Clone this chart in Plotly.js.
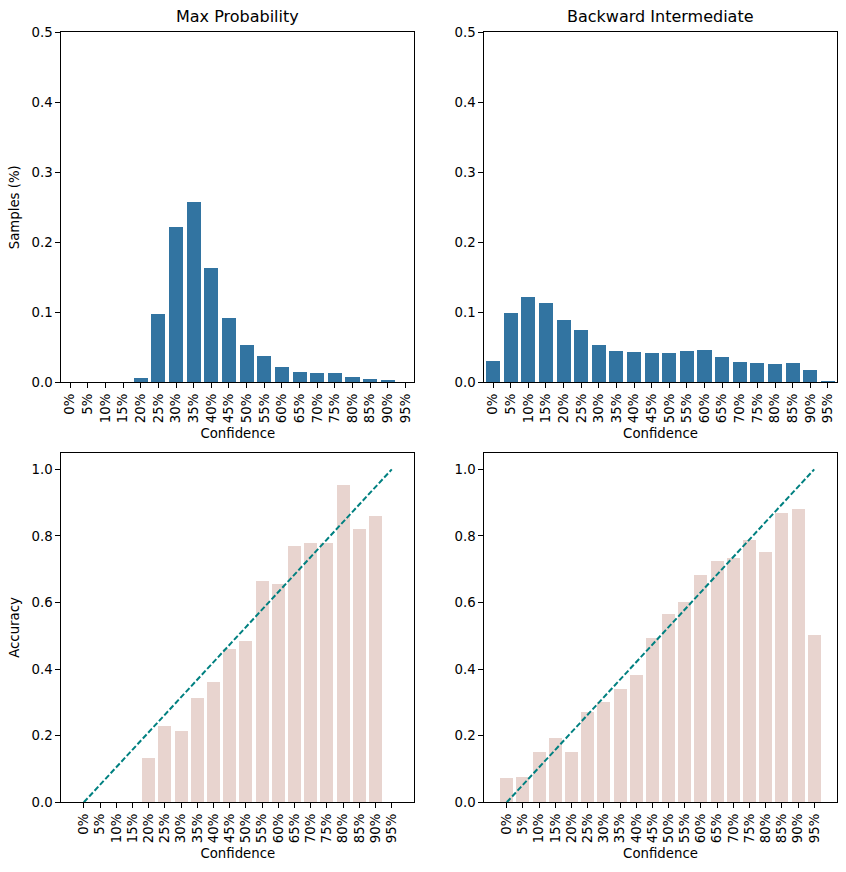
<!DOCTYPE html>
<html>
<head>
<meta charset="utf-8">
<script src="https://cdn.plot.ly/plotly-3.0.1.min.js"></script>
<style>html,body{margin:0;padding:0;background:#fff;}#chart{width:846px;height:872px;}</style>
</head>
<body>
<div id="chart"></div>
<script>
const labels = ["0%","5%","10%","15%","20%","25%","30%","35%","40%","45%","50%","55%","60%","65%","70%","75%","80%","85%","90%","95%"];
const maxProbSamples = [0,0,0,0,0.0062,0.0976,0.222,0.2576,0.1633,0.0919,0.0533,0.0376,0.0219,0.0148,0.0133,0.0133,0.0076,0.0048,0.0033,0];
const backIntSamples = [0.0305,0.099,0.1219,0.1133,0.089,0.0748,0.0533,0.0448,0.0433,0.0419,0.0419,0.0448,0.0462,0.0362,0.029,0.0276,0.0262,0.0276,0.0176,0.0019];
const maxProbAccuracy = [0,0,0,0,0.133,0.229,0.214,0.313,0.361,0.46,0.484,0.665,0.656,0.77,0.779,0.779,0.953,0.821,0.86,0];
const backIntAccuracy = [0.073,0.076,0.151,0.193,0.151,0.271,0.301,0.34,0.382,0.493,0.566,0.602,0.683,0.725,0.734,0.788,0.752,0.869,0.881,0.5025];
const diagY = [0, 1];

const idx = labels.map((_, i) => i);
const diagX = [0, labels.length - 1];

const blue = "#3274a1";
const pink = "#e8d4cf";
const teal = "#008080";
const font = {family: "DejaVu Sans", size: 13.3, color: "#000"};

function barTrace(vals, color, xa, ya) {
  return {type: "bar", x: idx, y: vals, width: 0.8, marker: {color: color, line: {width: 0}},
          xaxis: xa, yaxis: ya, showlegend: false, hoverinfo: "skip"};
}
function lineTrace(xa, ya) {
  return {type: "scatter", mode: "lines", x: diagX, y: diagY,
          line: {color: teal, width: 2, dash: "5.5px,2.4px"}, xaxis: xa, yaxis: ya, showlegend: false, hoverinfo: "skip"};
}

const data = [
  barTrace(maxProbSamples, blue, "x", "y"),
  barTrace(backIntSamples, blue, "x2", "y2"),
  barTrace(maxProbAccuracy, pink, "x3", "y3"),
  lineTrace("x3", "y3"),
  barTrace(backIntAccuracy, pink, "x4", "y4"),
  lineTrace("x4", "y4")
];

function xAxis(domain, range, anchor) {
  return {domain: domain, range: range, anchor: anchor, tickmode: "array", tickvals: idx, ticktext: labels,
          tickangle: -90, ticks: "outside", ticklen: 5, tickwidth: 1, tickcolor: "#000",
          showline: true, linecolor: "#000", linewidth: 1, mirror: true, showgrid: false, zeroline: false,
          tickfont: font, title: {text: "Confidence", font: font, standoff: 6}, fixedrange: true};
}
function yAxis(domain, range, dtick, anchor, title) {
  return {domain: domain, range: range, anchor: anchor, dtick: dtick, tick0: 0, tickformat: ".1f",
          ticks: "outside", ticklen: 5, tickwidth: 1, tickcolor: "#000",
          showline: true, linecolor: "#000", linewidth: 1, mirror: true, showgrid: false, zeroline: false,
          tickfont: font, title: {text: title, font: font, standoff: 8}, fixedrange: true};
}

const W = 846, H = 872;
const xL = [61.3 / W, 414.3 / W];
const xR = [484.3 / W, 836.7 / W];
const yT = [1 - 382.3 / H, 1 - 32.3 / H];
const yB = [1 - 802.3 / H, 1 - 452.7 / H];

const layout = {
  width: W, height: H,
  margin: {l: 0, r: 0, t: 0, b: 0},
  paper_bgcolor: "#fff", plot_bgcolor: "#fff",
  font: font,
  bargap: 0,
  xaxis: xAxis(xL, [-0.5, 19.5], "y"),
  yaxis: yAxis(yT, [0, 0.5], 0.1, "x", "Samples (%)"),
  xaxis2: xAxis(xR, [-0.5, 19.5], "y2"),
  yaxis2: yAxis(yT, [0, 0.5], 0.1, "x2", ""),
  xaxis3: xAxis(xL, [-1.39, 20.39], "y3"),
  yaxis3: yAxis(yB, [0, 1.05], 0.2, "x3", "Accuracy"),
  xaxis4: xAxis(xR, [-1.39, 20.39], "y4"),
  yaxis4: yAxis(yB, [0, 1.05], 0.2, "x4", ""),
  annotations: [
    {text: "Max Probability", xref: "paper", yref: "paper", x: (xL[0] + xL[1]) / 2, y: yT[1], yshift: 4,
     xanchor: "center", yanchor: "bottom", showarrow: false, font: {family: "DejaVu Sans", size: 16, color: "#000"}},
    {text: "Backward Intermediate", xref: "paper", yref: "paper", x: (xR[0] + xR[1]) / 2, y: yT[1], yshift: 4,
     xanchor: "center", yanchor: "bottom", showarrow: false, font: {family: "DejaVu Sans", size: 16, color: "#000"}}
  ]
};

Plotly.newPlot("chart", data, layout, {staticPlot: true, displayModeBar: false});
</script>
</body>
</html>
